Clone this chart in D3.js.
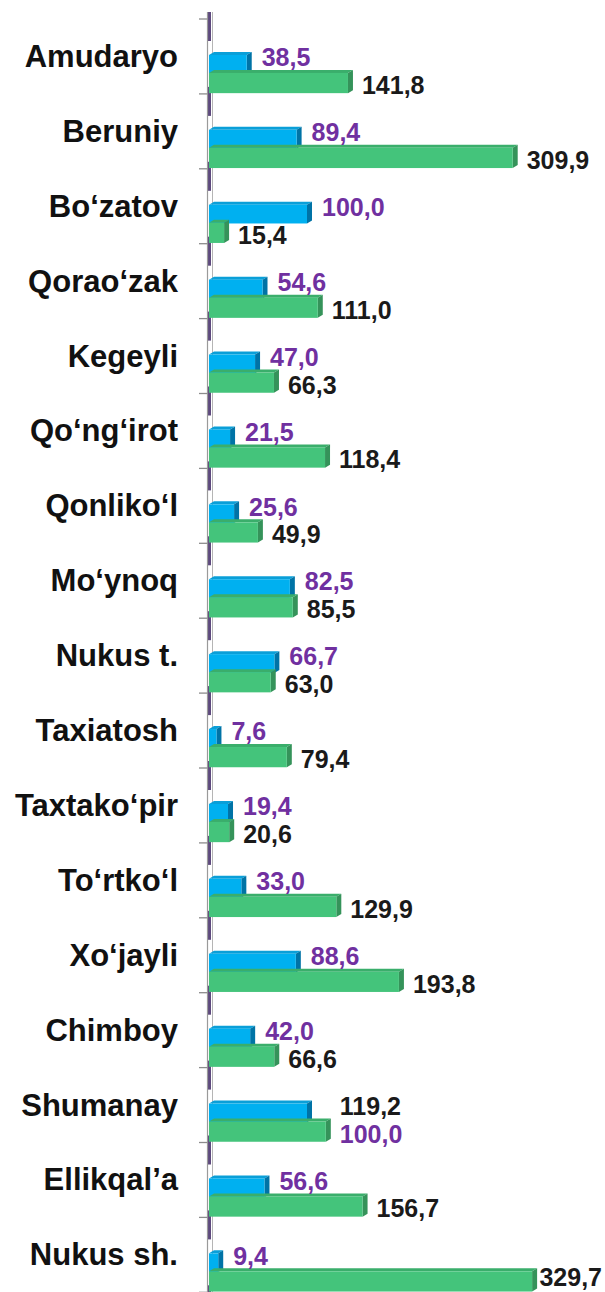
<!DOCTYPE html>
<html>
<head>
<meta charset="utf-8">
<script src="https://cdn.jsdelivr.net/npm/d3@7/dist/d3.min.js"></script>
<style>
  html, body { margin: 0; padding: 0; background: #ffffff; }
  svg { display: block; }
  text { font-family: "Liberation Sans", Arial, sans-serif; font-weight: bold; }
</style>
</head>
<body>
<svg id="chart" width="605" height="1292"></svg>
<script>
// Districts, top to bottom
const categories = ["Amudaryo", "Beruniy", "Bo‘zatov", "Qorao‘zak", "Kegeyli", "Qo‘ng‘irot",
  "Qonliko‘l", "Mo‘ynoq", "Nukus t.", "Taxiatosh", "Taxtako‘pir", "To‘rtko‘l", "Xo‘jayli",
  "Chimboy", "Shumanay", "Ellikqal’a", "Nukus sh."];

// First series (blue bars, purple labels)
const blueValues = [38.5, 89.4, 100.0, 54.6, 47.0, 21.5, 25.6, 82.5, 66.7, 7.6, 19.4, 33.0,
  88.6, 42.0, 100.0, 56.6, 9.4];

// Second series (green bars, black labels)
const greenValues = [141.8, 309.9, 15.4, 111.0, 66.3, 118.4, 49.9, 85.5, 63.0, 79.4, 20.6,
  129.9, 193.8, 66.6, 119.2, 156.7, 329.7];

// Rows whose two value labels are stacked in the opposite order
const swappedLabelRows = ["Shumanay"];

const W = 605, H = 1292;
const svg = d3.select("#chart");
svg.append("rect").attr("width", W).attr("height", H).attr("fill", "#ffffff");

const y = d3.scaleBand().domain(categories).range([19, 19 + 17 * 74.9]).padding(0);
const x = d3.scaleLinear().domain([0, 340]).range([209, 209 + 340 * 0.98]);
const bw = y.bandwidth();
const fmt = v => d3.format(".1f")(v).replace(".", ",");

// 3D depth offsets
const dx = 5, dy = 3;
const wallL = 207.5, wallR = 212.5;

// Axis wall
const axisG = svg.append("g");
const tickYs = categories.map(c => y(c)).concat([y.range()[1]]);
axisG.selectAll("rect.dash").data(tickYs).enter().append("rect")
  .attr("x", wallL + 0.5).attr("width", 3)
  .attr("y", d => d - 7).attr("height", 29)
  .attr("fill", "#5e4a7e");
axisG.append("line").attr("x1", wallL).attr("x2", wallL).attr("y1", 12).attr("y2", H)
  .attr("stroke", "#9a9a9a").attr("stroke-width", 1.2);
axisG.append("line").attr("x1", wallR).attr("x2", wallR).attr("y1", 12).attr("y2", H)
  .attr("stroke", "#b5b5b5").attr("stroke-width", 1);
axisG.selectAll("line.tick").data(tickYs).enter().append("line")
  .attr("x1", 199).attr("x2", wallL).attr("y1", d => d).attr("y2", d => d)
  .attr("stroke", "#8c8c8c").attr("stroke-width", 1.3);

// Draw a 3D bar: front face, top face, right side
function bar3d(g, x0, x1, y0, h, front, top, side) {
  g.append("polygon")
    .attr("points", [[x0, y0], [x0 + dx, y0 - dy], [x1 + dx, y0 - dy], [x1, y0]].join(" "))
    .attr("fill", top);
  g.append("polygon")
    .attr("points", [[x1, y0], [x1 + dx, y0 - dy], [x1 + dx, y0 + h - dy], [x1, y0 + h]].join(" "))
    .attr("fill", side);
  g.append("rect").attr("x", x0).attr("y", y0).attr("width", Math.max(0, x1 - x0)).attr("height", h)
    .attr("fill", front);
}

const barsG = svg.append("g");
categories.forEach((c, i) => {
  const b = y(c);
  bar3d(barsG, x(0), x(blueValues[i]), b + 0.48 * bw, 0.25 * bw, "#00b0f0", "#0a9fd8", "#0073a6");
  bar3d(barsG, x(0), x(greenValues[i]), b + 0.72 * bw, 0.27 * bw, "#44c47b", "#3aae6b", "#35935a");
});

// Category labels
svg.append("g").selectAll("text").data(categories).enter().append("text")
  .attr("x", 178).attr("y", d => y(d) + 0.5 * bw)
  .attr("text-anchor", "end").attr("dominant-baseline", "central")
  .attr("font-size", 31).attr("fill", "#111111")
  .text(d => d);

// Value labels, kept inside the picture's edges
const labelsG = svg.append("g");
function valueLabel(xPos, yPos, color, txt) {
  const t = labelsG.append("text")
    .attr("x", xPos).attr("y", yPos)
    .attr("dominant-baseline", "central").attr("font-size", 25).attr("fill", color)
    .text(txt);
  const bb = t.node().getBBox();
  if (bb.x + bb.width > W - 3) t.attr("x", xPos - (bb.x + bb.width - (W - 3)));
  if (bb.y + bb.height > H - 1) t.attr("y", yPos - (bb.y + bb.height - (H - 1)));
}
categories.forEach((c, i) => {
  const b = y(c);
  const swapped = swappedLabelRows.includes(c);
  const bx = x(blueValues[i]) + dx + 10;
  const gx = x(greenValues[i]) + dx + 9;
  const upperY = b + 0.51 * bw, lowerY = b + 0.88 * bw;
  valueLabel(swapped ? Math.max(bx, gx) : bx, swapped ? lowerY : upperY, "#7030a0", fmt(blueValues[i]));
  valueLabel(swapped ? Math.max(bx, gx) : gx, swapped ? upperY : lowerY, "#1a1a1a", fmt(greenValues[i]));
});
</script>
</body>
</html>
